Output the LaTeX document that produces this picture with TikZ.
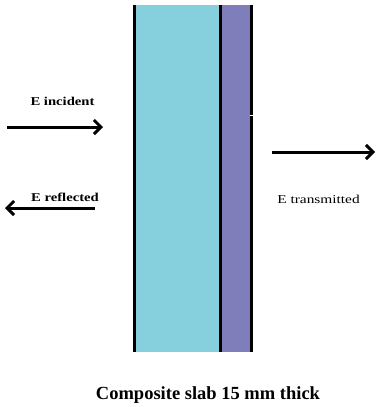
\documentclass[tikz,border=0pt]{standalone}
\usepackage{fontspec}
\setmainfont{Liberation Serif}
\newfontfamily\widefont[FakeStretch=1.22]{Liberation Serif}
\newfontfamily\widerfont[FakeStretch=1.28]{Liberation Serif}
\usetikzlibrary{arrows.meta}
\definecolor{slabcyan}{RGB}{134,208,222}
\definecolor{slabpurple}{RGB}{128,126,186}
\tikzset{
  wave/.style={line width=3pt, -{Straight Barb[length=7pt,width=14pt,line width=3pt]}},
  lbl/.style={font=\widefont\fontsize{12}{14}\selectfont\bfseries, inner sep=0pt, anchor=base},
  wall/.style={line width=3pt, black},
}
\begin{document}
\begin{tikzpicture}[x=1pt,y=-1pt]
\useasboundingbox (0,0) rectangle (376,407);
% slab layers
\fill[slabcyan] (134.5,5) rectangle (220.3,352);
\fill[slabpurple] (220.3,5) rectangle (251.3,352);
\draw[wall] (134.5,5) -- (134.5,352);
\draw[wall] (220.3,5) -- (220.3,352);
\draw[wall] (251.3,5) -- (251.3,352);
\draw[white, line width=1pt] (249.5,115) -- (254,115);
% coordinates
\coordinate (incS) at (7,127);
\coordinate (incE) at (103,127);
\coordinate (refS) at (95,208);
\coordinate (refE) at (5,208);
\coordinate (trS) at (272,152);
\coordinate (trE) at (375,152);
% arrows
\draw[wave] (incS) -- (incE);
\draw[wave] (refS) -- (refE);
\draw[wave] (trS) -- (trE);
% labels
\node[lbl] (tinc) at (62.5,105) {E incident};
\node[lbl] (tref) at (65,201.5) {E reflected};
\node[lbl, font=\widerfont\fontsize{12}{14}\selectfont] (ttr) at (318.5,203) {E transmitted};
\node[inner sep=0pt, anchor=base, font=\fontsize{18.5}{22}\selectfont\bfseries] (title) at (208,399) {Composite slab 15 mm thick};
\end{tikzpicture}
\end{document}
